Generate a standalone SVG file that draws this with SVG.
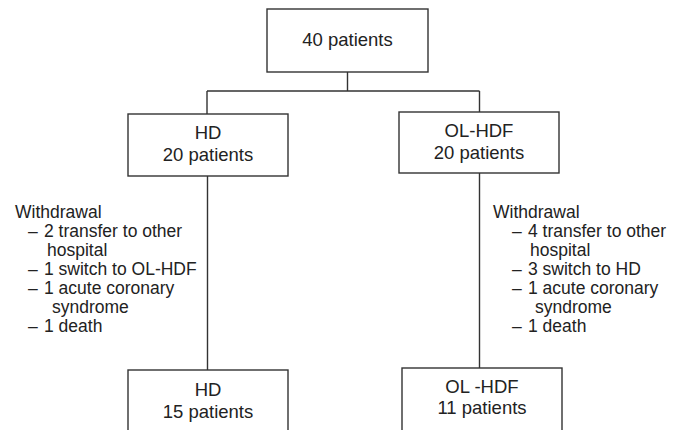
<svg xmlns="http://www.w3.org/2000/svg" width="681" height="430" viewBox="0 0 681 430">
<style>
.box{fill:#fff;stroke:#333;stroke-width:1.4}
.ln{stroke:#333;stroke-width:1.4;fill:none}
.t{font-family:"Liberation Sans",Arial,sans-serif;font-size:18.5px;fill:#222;text-anchor:middle}
.w{font-family:"Liberation Sans",Arial,sans-serif;font-size:17.5px;fill:#222}
</style>
<rect width="681" height="430" fill="#fff"/>
<g id="connectors">
<path class="ln" d="M347.5 72 V91 M207 91 H479.5 M207 91 V114 M479.5 91 V112 M207.5 176 V370 M479.5 173 V368"/>
</g>
<g id="n40">
<rect class="box" x="267" y="9" width="161" height="63"/>
<text class="t" x="347.5" y="46">40 patients</text>
</g>
<g id="hd20">
<rect class="box" x="128" y="114" width="160" height="62"/>
<text class="t" x="208" y="139">HD</text>
<text class="t" x="208" y="161">20 patients</text>
</g>
<g id="olhdf20">
<rect class="box" x="399" y="112" width="160" height="61"/>
<text class="t" x="479" y="137">OL-HDF</text>
<text class="t" x="479" y="159">20 patients</text>
</g>
<g id="withdrawal-hd">
<text class="w"><tspan x="15" y="218">Withdrawal</tspan><tspan x="28" y="237">–</tspan><tspan x="44" y="237">2 transfer to other</tspan><tspan x="47" y="256">hospital</tspan><tspan x="28" y="275">–</tspan><tspan x="44" y="275">1 switch to OL-HDF</tspan><tspan x="28" y="294">–</tspan><tspan x="44" y="294">1 acute coronary</tspan><tspan x="52" y="313">syndrome</tspan><tspan x="28" y="332">–</tspan><tspan x="44" y="332">1 death</tspan></text>
</g>
<g id="withdrawal-olhdf">
<text class="w"><tspan x="493" y="218">Withdrawal</tspan><tspan x="512" y="237">–</tspan><tspan x="528" y="237">4 transfer to other</tspan><tspan x="530" y="256">hospital</tspan><tspan x="512" y="275">–</tspan><tspan x="528" y="275">3 switch to HD</tspan><tspan x="512" y="294">–</tspan><tspan x="528" y="294">1 acute coronary</tspan><tspan x="535" y="313">syndrome</tspan><tspan x="512" y="332">–</tspan><tspan x="528" y="332">1 death</tspan></text>
</g>
<g id="hd15">
<rect class="box" x="128" y="370" width="160" height="70"/>
<text class="t" x="208" y="396">HD</text>
<text class="t" x="208" y="418">15 patients</text>
</g>
<g id="olhdf11">
<rect class="box" x="402" y="368" width="160" height="70"/>
<text class="t" x="482" y="393">OL -HDF</text>
<text class="t" x="482" y="414">11 patients</text>
</g>
</svg>
